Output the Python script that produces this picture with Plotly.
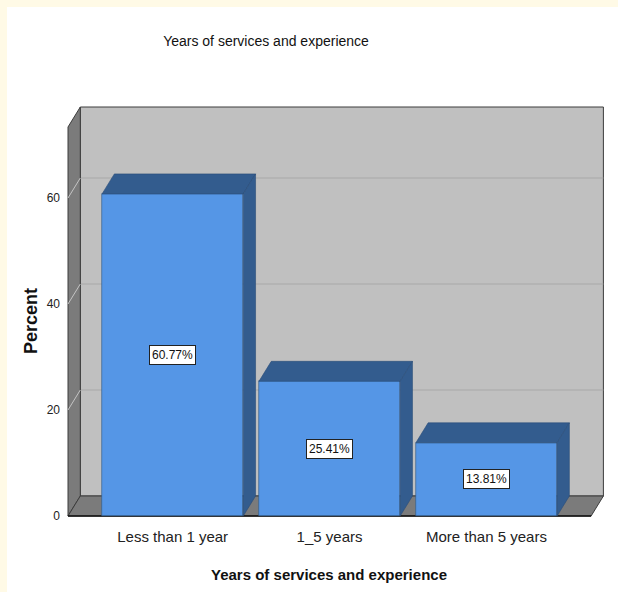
import plotly.graph_objects as go

# ---- data -------------------------------------------------------------
categories = ["Less than 1 year", "1_5 years", "More than 5 years"]
percent = [60.77, 25.41, 13.81]
y_ticks = [0, 20, 40, 60]

# ---- geometry of the pseudo-3D frame (in axis units) ----------------
W, H = 618, 592
XPU = 156.9          # pixels per category unit
YPU = 5.3            # pixels per percent
DX = 12.3 / XPU      # depth offset, x
DY = 20.0 / YPU      # depth offset, y
BAR_W = 0.9
X_LEFT = -0.667
X_RIGHT = 2.667
Y_TOP_BACK = 77.17

PLOT_L, PLOT_R, PLOT_T, PLOT_B = 64, 608, 102, 520
x_range = [X_LEFT - (68 - PLOT_L) / XPU, X_LEFT + (PLOT_R - 68) / XPU]
y_range = [-(PLOT_B - 516) / YPU, (516 - PLOT_T) / YPU]

FRONT = "#5596e6"
SHADE = "#335c8e"
WALL = "#c0c0c0"
SIDE = "#7b7b7b"
EDGE = "#3c3c3c"
FONT = "Liberation Sans, Arial, sans-serif"

fig = go.Figure()

# front faces of the bars
fig.add_trace(go.Bar(
    x=list(range(len(categories))), y=percent, width=BAR_W,
    marker=dict(color=FRONT, line=dict(color="#2f5680", width=0.6)),
    hoverinfo="skip", showlegend=False,
))

# top and right-hand faces of the bars
for i, v in enumerate(percent):
    l, r = i - BAR_W / 2, i + BAR_W / 2
    fig.add_trace(go.Scatter(
        x=[l, r, r + DX, l + DX, l], y=[v, v, v + DY, v + DY, v],
        fill="toself", fillcolor=SHADE, mode="lines",
        line=dict(color="#2a4d78", width=0.6),
        hoverinfo="skip", showlegend=False,
    ))
    fig.add_trace(go.Scatter(
        x=[r, r + DX, r + DX, r, r], y=[0, DY, v + DY, v, 0],
        fill="toself", fillcolor=SHADE, mode="lines",
        line=dict(color="#2a4d78", width=0.6),
        hoverinfo="skip", showlegend=False,
    ))

shapes = []
xb_l, xb_r = X_LEFT + DX, X_RIGHT + DX
y_top_front = Y_TOP_BACK - DY

# back wall
shapes.append(dict(type="rect", xref="x", yref="y", layer="below",
                   x0=xb_l, x1=xb_r, y0=DY, y1=Y_TOP_BACK,
                   fillcolor=WALL, line=dict(color=EDGE, width=1)))
# gridlines on the back wall and the left wall
for t in y_ticks[1:]:
    shapes.append(dict(type="line", xref="x", yref="y", layer="below",
                       x0=xb_l, x1=xb_r, y0=t + DY, y1=t + DY,
                       line=dict(color="#a8a8a8", width=1)))
# left wall
shapes.append(dict(type="path", xref="x", yref="y", layer="below",
                   path=f"M{X_LEFT},0 L{xb_l},{DY} L{xb_l},{Y_TOP_BACK} "
                        f"L{X_LEFT},{y_top_front} Z",
                   fillcolor=SIDE, line=dict(color=EDGE, width=1)))
for t in y_ticks[1:]:
    shapes.append(dict(type="line", xref="x", yref="y", layer="below",
                       x0=X_LEFT, x1=xb_l, y0=t, y1=t + DY,
                       line=dict(color="#c4c4c4", width=1)))
# floor
shapes.append(dict(type="path", xref="x", yref="y", layer="below",
                   path=f"M{X_LEFT},0 L{X_RIGHT},0 L{xb_r},{DY} L{xb_l},{DY} Z",
                   fillcolor=SIDE, line=dict(color=EDGE, width=1)))
shapes.append(dict(type="line", xref="x", yref="y", layer="below",
                   x0=X_LEFT, x1=X_RIGHT, y0=0, y1=0,
                   line=dict(color="#111111", width=1.5)))
# cream page edges
pw, ph = PLOT_R - PLOT_L, PLOT_B - PLOT_T
shapes.append(dict(type="rect", xref="paper", yref="paper", layer="below",
                   x0=-PLOT_L / pw, x1=-(PLOT_L - 7) / pw,
                   y0=-(H - PLOT_B) / ph, y1=1 + PLOT_T / ph,
                   fillcolor="#fffae6", line=dict(width=0)))
shapes.append(dict(type="rect", xref="paper", yref="paper", layer="below",
                   x0=-PLOT_L / pw, x1=1 + (W - PLOT_R) / pw,
                   y0=1 + (PLOT_T - 7) / ph, y1=1 + PLOT_T / ph,
                   fillcolor="#fffae6", line=dict(width=0)))

annotations = []
for i, v in enumerate(percent):
    annotations.append(dict(
        x=i, y=v / 2, xref="x", yref="y", text=f"{v:.2f}%", showarrow=False,
        font=dict(family=FONT, size=12, color="#111111"),
        bgcolor="white", bordercolor="#222222", borderwidth=1, borderpad=2,
    ))
annotations.append(dict(
    x=(31 - PLOT_L) / pw, y=(PLOT_B - 321) / ph, xref="paper", yref="paper",
    xanchor="center", yanchor="middle",
    text="<b>Percent</b>", textangle=-90, showarrow=False,
    font=dict(family=FONT, size=18, color="#111111"),
))
annotations.append(dict(
    x=(329 - PLOT_L) / pw, y=(PLOT_B - 574) / ph, xref="paper", yref="paper",
    xanchor="center", yanchor="middle",
    text="<b>Years of services and experience</b>", showarrow=False,
    font=dict(family=FONT, size=15, color="#111111"),
))

fig.update_layout(
    width=W, height=H,
    margin=dict(l=PLOT_L, r=W - PLOT_R, t=PLOT_T, b=H - PLOT_B),
    paper_bgcolor="white", plot_bgcolor="rgba(0,0,0,0)",
    title=dict(text="Years of services and experience",
               x=266 / W, xref="container", xanchor="center",
               y=1 - 41 / H, yref="container", yanchor="middle",
               font=dict(family=FONT, size=14, color="#111111")),
    xaxis=dict(range=x_range, tickvals=list(range(len(categories))),
               ticktext=categories, showgrid=False, zeroline=False,
               showline=False, ticks="", ticklabelstandoff=6,
               tickfont=dict(family=FONT, size=15, color="#222222")),
    yaxis=dict(range=y_range, tickvals=y_ticks, showgrid=False,
               zeroline=False, showline=False, ticks="", ticklabelstandoff=3,
               tickfont=dict(family=FONT, size=12, color="#222222")),
    shapes=shapes, annotations=annotations, bargap=0,
)

fig.write_html("out.html")
